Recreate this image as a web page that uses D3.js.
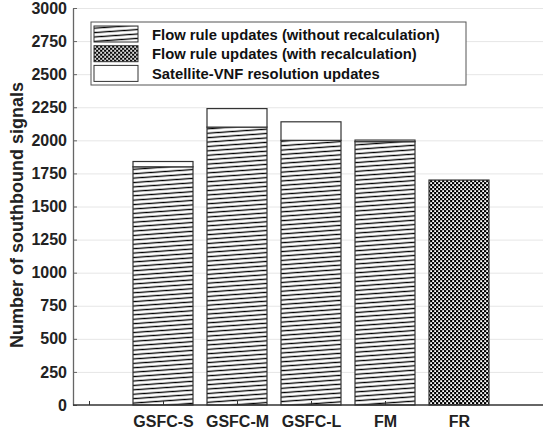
<!DOCTYPE html>
<html>
<head>
<meta charset="utf-8">
<script src="https://cdn.jsdelivr.net/npm/d3@7"></script>
<style>
body { margin: 0; background: #fff; }
text { font-family: "Liberation Sans", Arial, Helvetica, sans-serif; font-weight: bold; }
</style>
</head>
<body>
<div id="chart"></div>
<script>
// data
var categories = ["", "GSFC-S", "GSFC-M", "GSFC-L", "FM", "FR"];
var flowNoRecalc = [0, 1800, 2100, 2000, 1990, 0];
var flowRecalc = [0, 0, 0, 0, 0, 1700];
var satVnf = [0, 40, 140, 140, 12, 0];
var yTicks = [0, 250, 500, 750, 1000, 1250, 1500, 1750, 2000, 2250, 2500, 2750, 3000];
var seriesNames = ["Flow rule updates (without recalculation)",
	"Flow rule updates (with recalculation)",
	"Satellite-VNF resolution updates"];

var W = 543, H = 435,
	plotL = 73, plotR = 543, plotT = 8, plotB = 405,
	barW = 60;

var svg = d3.select("#chart").append("svg")
	.attr("width", W)
	.attr("height", H);

var defs = svg.append("defs");

// slanted stripes
var stripe = defs.append("pattern")
	.attr("id", "stripe")
	.attr("patternUnits", "userSpaceOnUse")
	.attr("width", 40)
	.attr("height", 4.4)
	.attr("patternTransform", "rotate(-4)");
stripe.append("rect").attr("width", 40).attr("height", 4.4).attr("fill", "#fff");
stripe.append("line")
	.attr("x1", 0).attr("x2", 40).attr("y1", 2.2).attr("y2", 2.2)
	.attr("stroke", "#000").attr("stroke-width", 1.4);

// checker
var checker = defs.append("pattern")
	.attr("id", "checker")
	.attr("patternUnits", "userSpaceOnUse")
	.attr("width", 4)
	.attr("height", 4);
checker.append("rect").attr("width", 4).attr("height", 4).attr("fill", "#000");
checker.append("rect").attr("x", 0.2).attr("y", 0.2).attr("width", 1.9).attr("height", 1.9).attr("fill", "#fff");
checker.append("rect").attr("x", 2.2).attr("y", 2.2).attr("width", 1.9).attr("height", 1.9).attr("fill", "#fff");

var fills = ["url(#stripe)", "url(#checker)", "#fff"];

var x = d3.scaleLinear().domain([0, 5]).range([89, 459]);
var y = d3.scaleLinear().domain([0, 3000]).range([plotB, plotT]);

// grid lines
svg.append("g")
	.attr("transform", "translate(" + plotL + ",0)")
	.call(d3.axisLeft(y).tickValues(yTicks.slice(1)).tickSize(-(plotR - plotL)).tickFormat(""))
	.call(function(g) {
		g.select(".domain").remove();
		g.selectAll("line").attr("stroke", "#e6e6e6");
	});

// stacked bars
var rows = categories.map(function(c, i) {
	return {cat: i, a: flowNoRecalc[i], b: flowRecalc[i], c: satVnf[i]};
});
var stack = d3.stack().keys(["a", "b", "c"])(rows);

stack.forEach(function(layer, k) {
	svg.append("g").selectAll("rect")
		.data(layer.filter(function(d) { return d[1] - d[0] > 0; }))
		.enter().append("rect")
		.attr("x", function(d) { return x(d.data.cat) - barW / 2; })
		.attr("y", function(d) { return y(d[1]); })
		.attr("width", barW)
		.attr("height", function(d) { return y(d[0]) - y(d[1]); })
		.attr("fill", fills[k])
		.attr("stroke", "#333")
		.attr("stroke-width", 1.2);
});

// axes
svg.append("g")
	.attr("transform", "translate(" + plotL + ",0)")
	.call(d3.axisLeft(y).tickValues(yTicks).tickFormat(d3.format("d"))
		.tickSizeInner(-4).tickSizeOuter(0).tickPadding(6))
	.call(function(g) {
		g.select(".domain").attr("stroke", "#666").attr("stroke-width", 1.3);
		g.selectAll("line").attr("stroke", "#666");
		g.selectAll("text").attr("font-size", 16).attr("fill", "#222");
	});

svg.append("line")
	.attr("x1", plotL).attr("x2", plotR)
	.attr("y1", plotB).attr("y2", plotB)
	.attr("stroke", "#333").attr("stroke-width", 1.3);

svg.append("g")
	.attr("transform", "translate(0," + plotB + ")")
	.call(d3.axisBottom(x).tickValues(d3.range(categories.length))
		.tickFormat(function(d) { return categories[d]; })
		.tickSizeInner(-4).tickSizeOuter(0).tickPadding(11))
	.call(function(g) {
		g.select(".domain").remove();
		g.selectAll("line").attr("stroke", "#333");
		g.selectAll("text").attr("font-size", 16).attr("fill", "#222");
	});

// y label
svg.append("text")
	.attr("transform", "translate(23,215) rotate(-90)")
	.attr("text-anchor", "middle")
	.attr("font-size", 18)
	.attr("fill", "#222")
	.text("Number of southbound signals");

// legend
var legend = svg.append("g");
legend.append("rect")
	.attr("x", 91).attr("y", 22)
	.attr("width", 375).attr("height", 63)
	.attr("fill", "#fff").attr("stroke", "#555");

var items = legend.selectAll(".item")
	.data(seriesNames)
	.enter().append("g")
	.attr("class", "item")
	.attr("transform", function(d, i) { return "translate(94," + (26 + i * 19.7) + ")"; });

items.append("rect")
	.attr("width", 44).attr("height", 16)
	.attr("fill", function(d, i) { return fills[i]; })
	.attr("stroke", "#333");

items.append("text")
	.attr("x", 58).attr("y", 13.5)
	.attr("font-size", 14.8)
	.attr("fill", "#111")
	.text(function(d) { return d; });
</script>
</body>
</html>
